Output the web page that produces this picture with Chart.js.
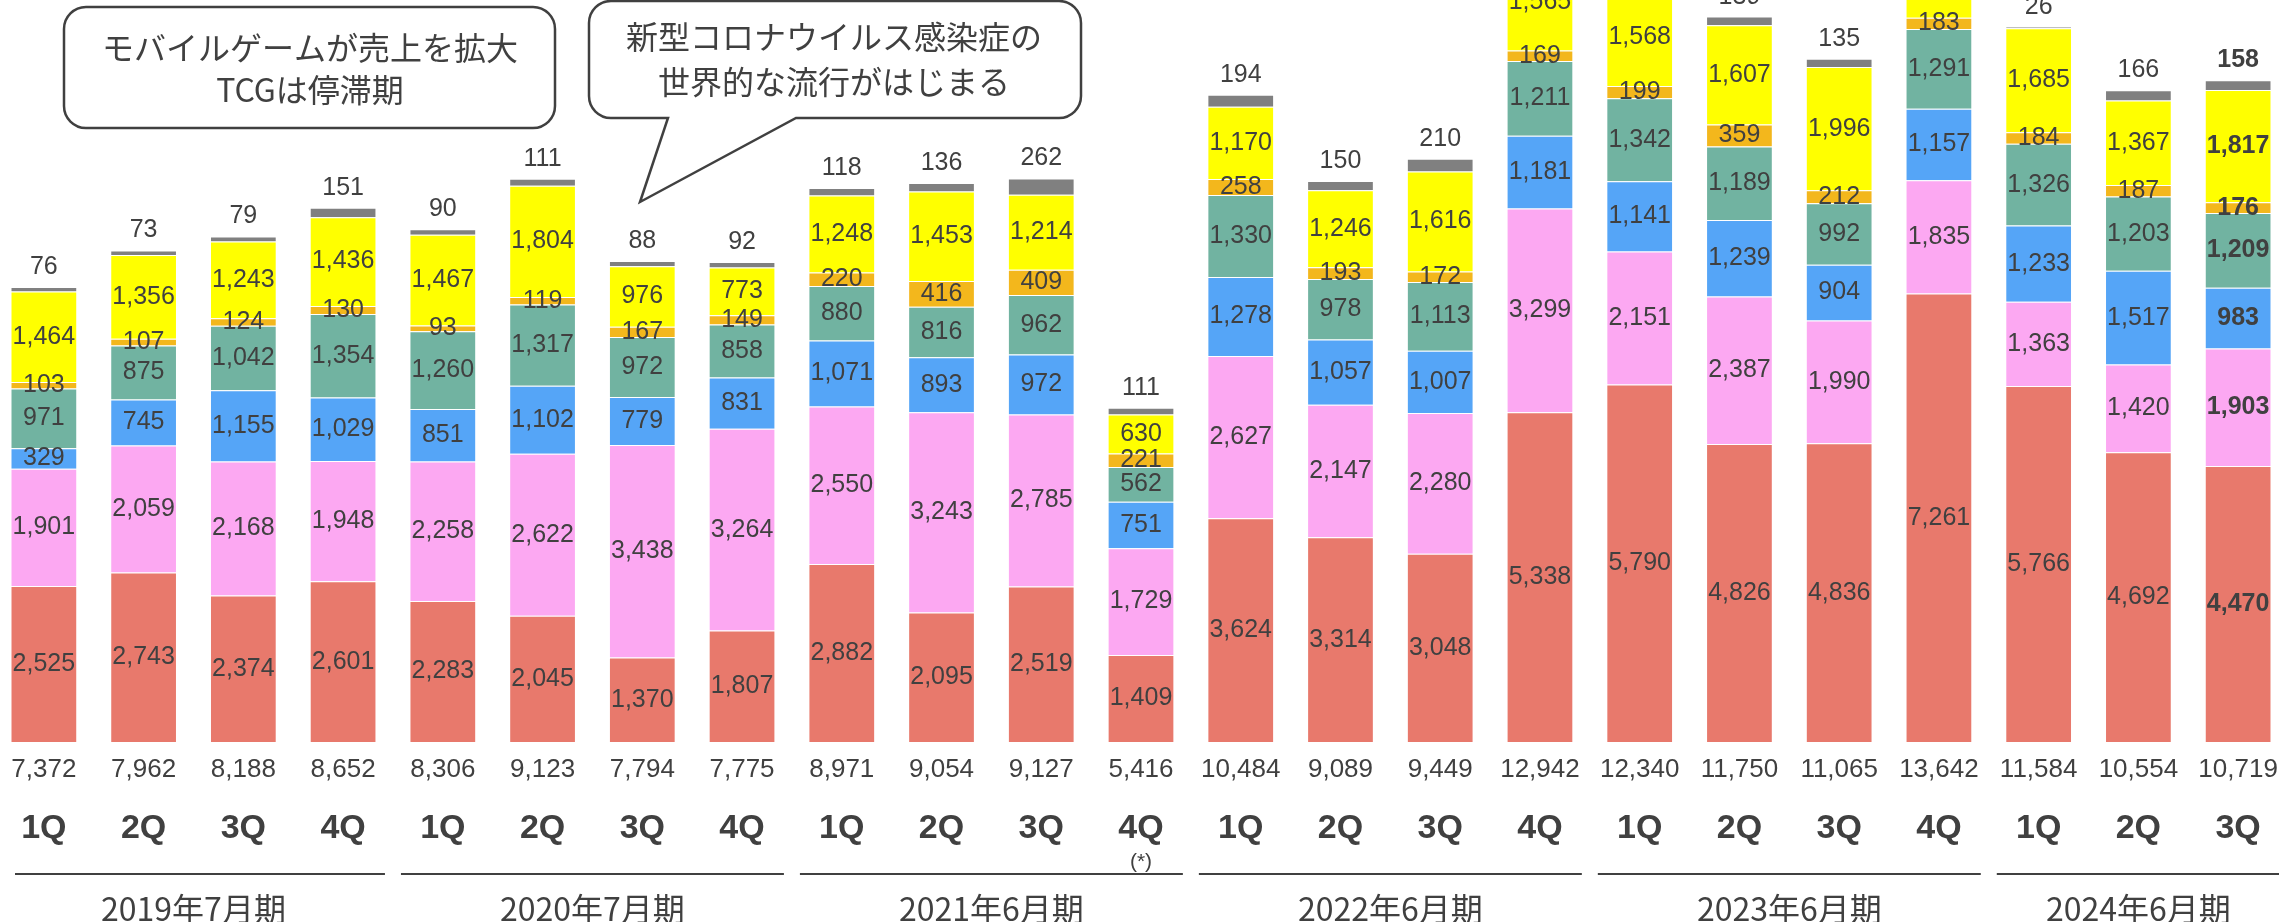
<!DOCTYPE html>
<html lang="ja">
<head>
<meta charset="utf-8">
<title>売上推移</title>
<script src="https://cdn.jsdelivr.net/npm/chart.js@4.4.1/dist/chart.umd.min.js"></script>
<style>
  html, body { margin: 0; padding: 0; background: #fff; overflow: hidden; }
  #wrap { position: absolute; left: -6px; top: 0; width: 2294px; height: 922px; }
</style>
</head>
<body>
<div id="wrap"><canvas id="myChart"></canvas></div>
<script>
var quarters = ['1Q', '2Q', '3Q', '4Q', '1Q', '2Q', '3Q', '4Q', '1Q', '2Q', '3Q', '4Q',
    '1Q', '2Q', '3Q', '4Q', '1Q', '2Q', '3Q', '4Q', '1Q', '2Q', '3Q'];
var years = ['2019年7月期', '2020年7月期', '2021年6月期', '2022年6月期', '2023年6月期', '2024年6月期'];
var yearSizes = [4, 4, 4, 4, 4, 3];
var totals = [7372, 7962, 8188, 8652, 8306, 9123, 7794, 7775, 8971, 9054, 9127, 5416,
    10484, 9089, 9449, 12942, 12340, 11750, 11065, 13642, 11584, 10554, 10719];

// bottom to top
var redValues = [2525, 2743, 2374, 2601, 2283, 2045, 1370, 1807, 2882, 2095, 2519, 1409,
    3624, 3314, 3048, 5338, 5790, 4826, 4836, 7261, 5766, 4692, 4470];
var pinkValues = [1901, 2059, 2168, 1948, 2258, 2622, 3438, 3264, 2550, 3243, 2785, 1729,
    2627, 2147, 2280, 3299, 2151, 2387, 1990, 1835, 1363, 1420, 1903];
var blueValues = [329, 745, 1155, 1029, 851, 1102, 779, 831, 1071, 893, 972, 751,
    1278, 1057, 1007, 1181, 1141, 1239, 904, 1157, 1233, 1517, 983];
var tealValues = [971, 875, 1042, 1354, 1260, 1317, 972, 858, 880, 816, 962, 562,
    1330, 978, 1113, 1211, 1342, 1189, 992, 1291, 1326, 1203, 1209];
var orangeValues = [103, 107, 124, 130, 93, 119, 167, 149, 220, 416, 409, 221,
    258, 193, 172, 169, 199, 359, 212, 183, 184, 187, 176];
var yellowValues = [1464, 1356, 1243, 1436, 1467, 1804, 976, 773, 1248, 1453, 1214, 630,
    1170, 1246, 1616, 1565, 1568, 1607, 1996, 1765, 1685, 1367, 1817];
var grayValues = [76, 73, 79, 151, 90, 111, 88, 92, 118, 136, 262, 111,
    194, 150, 210, 180, 150, 139, 135, 150, 26, 166, 158];

var SHIFT = 6;
var textColor = '#404040';
var numFont = '"Liberation Sans", Arial, sans-serif';
var jpFont = '"Noto Sans CJK JP", sans-serif';

function fmt(v) {
    return v.toLocaleString('en-US');
}

var segmentLabels = {
    id: 'segmentLabels',
    afterDatasetsDraw: function (chart) {
        var ctx = chart.ctx;
        var last = chart.data.datasets.length - 1;
        ctx.save();
        ctx.textAlign = 'center';
        ctx.textBaseline = 'middle';
        ctx.fillStyle = textColor;
        chart.data.datasets.forEach(function (ds, i) {
            chart.getDatasetMeta(i).data.forEach(function (bar, j) {
                var bold = j === quarters.length - 1;
                ctx.font = (bold ? 'bold ' : '') + '25px ' + numFont;
                var y = i === last ? bar.y - 20 : (bar.y + bar.base) / 2;
                ctx.fillText(fmt(ds.data[j]), bar.x, y);
            });
        });
        ctx.restore();
    }
};

var bottomAxis = {
    id: 'bottomAxis',
    afterDraw: function (chart) {
        var ctx = chart.ctx;
        var xs = chart.scales.x;
        var step = xs.width / quarters.length;
        ctx.save();
        ctx.fillStyle = textColor;
        ctx.strokeStyle = textColor;
        ctx.textAlign = 'center';
        ctx.textBaseline = 'middle';
        quarters.forEach(function (q, j) {
            var x = xs.getPixelForValue(j);
            ctx.font = '26px ' + numFont;
            ctx.fillText(fmt(totals[j]), x, 770);
            ctx.font = 'bold 34px ' + numFont;
            ctx.fillText(q, x, 829);
        });
        ctx.font = '21px ' + numFont;
        ctx.fillText('(*)', xs.getPixelForValue(11), 862);

        var start = 0;
        ctx.lineWidth = 2;
        years.forEach(function (y, k) {
            var left = xs.left + start * step;
            var right = left + yearSizes[k] * step;
            ctx.beginPath();
            ctx.moveTo(Math.max(left + 8, 21), 874);
            ctx.lineTo(right - 8, 874);
            ctx.stroke();
            ctx.font = '32px ' + jpFont;
            ctx.textBaseline = 'alphabetic';
            ctx.fillText(y, (left + right) / 2, 921);
            ctx.textBaseline = 'middle';
            start += yearSizes[k];
        });
        ctx.restore();
    }
};

var callouts = {
    id: 'callouts',
    afterDraw: function (chart) {
        var ctx = chart.ctx;
        ctx.save();
        ctx.translate(SHIFT, 0);
        ctx.lineWidth = 2.5;
        ctx.strokeStyle = textColor;
        ctx.fillStyle = '#fff';

        ctx.beginPath();
        ctx.roundRect(64, 7, 491, 121, 22);
        ctx.fill();
        ctx.stroke();

        // speech bubble with tail
        var l = 589, t = 1, r = 1081, b = 118, rad = 22;
        ctx.beginPath();
        ctx.moveTo(l + rad, t);
        ctx.lineTo(r - rad, t);
        ctx.arcTo(r, t, r, t + rad, rad);
        ctx.lineTo(r, b - rad);
        ctx.arcTo(r, b, r - rad, b, rad);
        ctx.lineTo(796, b);
        ctx.lineTo(640, 202);
        ctx.lineTo(668, b);
        ctx.lineTo(l + rad, b);
        ctx.arcTo(l, b, l, b - rad, rad);
        ctx.lineTo(l, t + rad);
        ctx.arcTo(l, t, l + rad, t, rad);
        ctx.closePath();
        ctx.fill();
        ctx.stroke();

        ctx.fillStyle = textColor;
        ctx.font = '32px ' + jpFont;
        ctx.textAlign = 'center';
        ctx.textBaseline = 'middle';
        ctx.fillText('モバイルゲームが売上を拡大', 310, 48);
        ctx.fillText('TCGは停滞期', 310, 90);
        ctx.fillText('新型コロナウイルス感染症の', 834, 37);
        ctx.fillText('世界的な流行がはじまる', 834, 82);
        ctx.restore();
    }
};

function series(data, color) {
    return {
        data: data,
        backgroundColor: color,
        borderColor: 'rgba(255,255,255,0.4)',
        borderWidth: 1,
        barPercentage: 0.669,
        categoryPercentage: 1
    };
}

var ctx = document.getElementById('myChart').getContext('2d');
var myChart = new Chart(ctx, {
    type: 'bar',
    data: {
        labels: quarters,
        datasets: [
            series(redValues, '#E8796C'),
            series(pinkValues, '#FCA8F2'),
            series(blueValues, '#55A5F7'),
            series(tealValues, '#71B3A1'),
            series(orangeValues, '#F3B71C'),
            series(yellowValues, '#FFFF00'),
            series(grayValues, '#808080')
        ]
    },
    options: {
        responsive: true,
        maintainAspectRatio: false,
        animation: false,
        layout: { padding: { top: 0, left: 0, right: 0, bottom: 180 } },
        plugins: {
            legend: { display: false },
            tooltip: { enabled: false }
        },
        scales: {
            x: { stacked: true, display: false },
            y: { stacked: true, display: false, min: 0, max: 12015 }
        }
    },
    plugins: [segmentLabels, bottomAxis, callouts]
});
</script>
</body>
</html>
